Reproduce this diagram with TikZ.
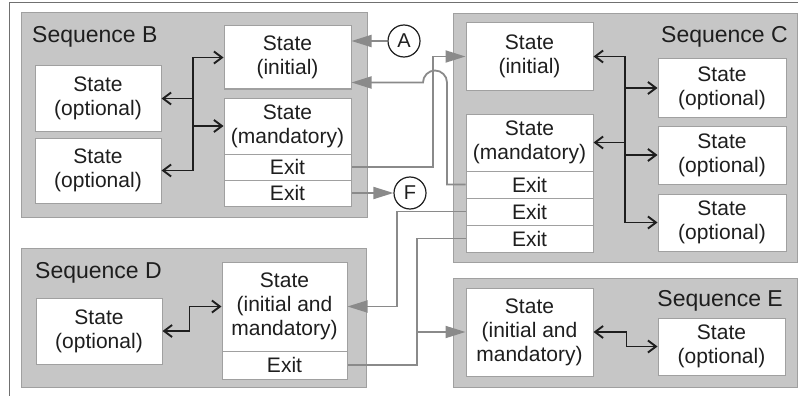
\documentclass[tikz,border=0pt]{standalone}
\usepackage{fontspec}
\setmainfont{Liberation Sans}
\usetikzlibrary{arrows.meta}
\definecolor{boxfill}{HTML}{C6C6C6}
\definecolor{boxline}{HTML}{A0A0A0}
\definecolor{conn}{HTML}{8A8A8A}
\definecolor{ink}{HTML}{1E1E1E}
\definecolor{frame}{HTML}{707070}
\begin{document}
\begin{tikzpicture}[x=1pt,y=-1pt,
 seqbox/.style={draw=boxline, fill=boxfill, line width=1pt, inner sep=0pt},
 statebox/.style={draw=boxline, fill=white, line width=1pt, inner sep=0pt, align=center, text=ink, font=\fontsize{21}{24}\selectfont},
 seqlabel/.style={text=ink, font=\fontsize{23}{25}\selectfont, inner sep=0pt},
 circ/.style={circle, draw=ink, fill=white, line width=1.2pt, minimum size=32pt, inner sep=0pt, font=\fontsize{20}{22}\selectfont, text=ink},
 gconn/.style={draw=conn, line width=1.8pt},
 garrow/.style={gconn, -{Triangle[length=20pt,width=12pt]}},
 bconn/.style={draw=ink, line width=1.9pt},
 barrow/.style={bconn, -{Straight Barb[length=8pt,width=12pt]}},
 bboth/.style={bconn, {Straight Barb[length=8pt,width=12pt]}-{Straight Barb[length=8pt,width=12pt]}},
]
\useasboundingbox (0,0) rectangle (798,396);
\draw[frame, line width=1pt] (9,396) -- (9,3) -- (798,3);

% Sequence B
\node[seqbox, minimum width=346pt, minimum height=204pt] (seqB) at (194,115) {};
\node[seqlabel, anchor=base west] (labB) at (32,43) {Sequence B};
\node[statebox, minimum width=127pt, minimum height=63pt] (binit) at (287.5,57.5) {State\\(initial)};
\node[statebox, minimum width=127pt, minimum height=56pt] (bmand) at (287.5,126) {State\\(mandatory)};
\node[statebox, minimum width=127pt, minimum height=26pt] (bexA) at (287.5,167) {Exit};
\node[statebox, minimum width=127pt, minimum height=26pt] (bexB) at (287.5,193) {Exit};
\node[statebox, minimum width=126pt, minimum height=65pt] (bopA) at (98,98.5) {State\\(optional)};
\node[statebox, minimum width=126pt, minimum height=65pt] (bopB) at (98,170.5) {State\\(optional)};

% Sequence C
\node[seqbox, minimum width=344pt, minimum height=248pt] (seqC) at (625,138) {};
\node[seqlabel, anchor=base east] (labC) at (788,43) {Sequence C};
\node[statebox, minimum width=127pt, minimum height=67pt] (cinit) at (529.5,56.5) {State\\(initial)};
\node[statebox, minimum width=127pt, minimum height=57pt] (cmand) at (529.5,142.5) {State\\(mandatory)};
\node[statebox, minimum width=127pt, minimum height=27pt] (cexA) at (529.5,184.5) {Exit};
\node[statebox, minimum width=127pt, minimum height=27pt] (cexB) at (529.5,211.5) {Exit};
\node[statebox, minimum width=127pt, minimum height=27pt] (cexC) at (529.5,238.5) {Exit};
\node[statebox, minimum width=128pt, minimum height=58pt] (copA) at (722,88) {State\\(optional)};
\node[statebox, minimum width=128pt, minimum height=58pt] (copB) at (722,155) {State\\(optional)};
\node[statebox, minimum width=128pt, minimum height=57pt] (copC) at (722,222.5) {State\\(optional)};

% Sequence D
\node[seqbox, minimum width=345pt, minimum height=139pt] (seqD) at (193.5,317.5) {};
\node[seqlabel, anchor=base west] (labD) at (35,278) {Sequence D};
\node[statebox, minimum width=125pt, minimum height=89pt] (dstate) at (284.5,306.5) {State\\(initial and\\mandatory)};
\node[statebox, minimum width=125pt, minimum height=28pt] (dexit) at (284.5,365) {Exit};
\node[statebox, minimum width=126pt, minimum height=66pt] (dopt) at (99,331) {State\\(optional)};

% Sequence E
\node[seqbox, minimum width=344pt, minimum height=109pt] (seqE) at (625,332.5) {};
\node[seqlabel, anchor=base east] (labE) at (783,306) {Sequence E};
\node[statebox, minimum width=127pt, minimum height=88pt] (estate) at (529.5,332) {State\\(initial and\\mandatory)};
\node[statebox, minimum width=127pt, minimum height=57pt] (eopt) at (721.5,346.5) {State\\(optional)};

% Circles
\node[circ] (A) at (404,41) {A};
\node[circ] (F) at (410,193) {F};

% black connectors
\coordinate (busB) at (193,0);
\coordinate (busC) at (625,0);
\draw[bboth] (binit.west) -- (busB |- binit.west) -- (busB |- bopB.east) -- (bopB.east);
\draw[barrow] (busB |- bopA.east) -- (bopA.east);
\draw[barrow] (busB |- bmand.west) -- (bmand.west);
\draw[bboth] (cinit.east) -- (busC |- cinit.east) -- (busC |- copC.west) -- (copC.west);
\draw[barrow] (busC |- copA.west) -- (copA.west);
\draw[barrow] (busC |- cmand.east) -- (cmand.east);
\draw[barrow] (busC |- copB.west) -- (copB.west);
\draw[bboth] (dopt.east) -- ++(27,0) |- (dstate.west);
\draw[bboth] (estate.east) -- ++(33,0) |- (eopt.west);

% gray connectors
\coordinate (gxA) at (433,0);
\coordinate (gxB) at (397,0);
\coordinate (gxC) at (417,0);
\coordinate (hopR) at (447,82.5);
\draw[garrow] (A.west) -- (A.west -| binit.east);
\draw[garrow] (bexB.east) -- (F.west);
\draw[garrow] (bexA.east) -| (gxA |- cinit.west) -- (cinit.west);
\draw[garrow] (cexA.west) -| (hopR) arc[start angle=0, end angle=180, radius=12pt] -- (binit.east |- hopR);
\draw[garrow] (cexB.west) -| (gxB |- dstate.east) -- (dstate.east);
\draw[gconn] (dexit.east) -| (gxC |- cexC.west) -- (cexC.west);
\draw[garrow] (gxC |- estate.west) -- (estate.west);
\end{tikzpicture}
\end{document}
